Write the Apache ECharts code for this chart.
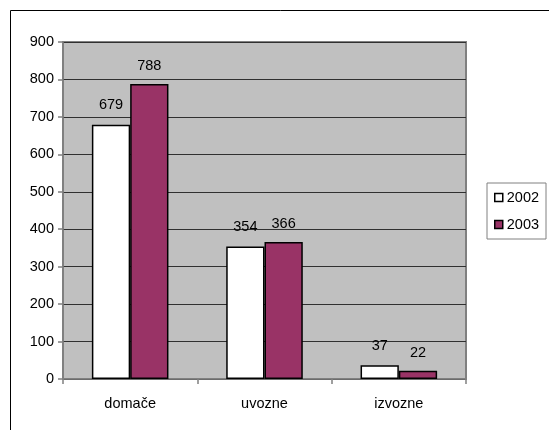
<!DOCTYPE html>
<html>
<head>
<meta charset="utf-8">
<style>
  html, body { margin: 0; padding: 0; background: #fff; }
  #chart { width: 549px; height: 430px; }
</style>
<script src="https://cdn.jsdelivr.net/npm/echarts@6/dist/echarts.min.js"></script>
</head>
<body>
<div id="chart"></div>
<script>
// Categories and yearly values
const categories = ['domače', 'uvozne', 'izvozne'];
const years = ['2002', '2003'];
const values2002 = [679, 354, 37];
const values2003 = [788, 366, 22];
const yTicks = { min: 0, max: 900, interval: 100 };

const FONT = 'Liberation Sans, Arial, sans-serif';
const FS = 14.5;
const chart = echarts.init(document.getElementById('chart'), null, { renderer: 'canvas' });

function barSeries(name, data, color, labelDist) {
  return {
    name: name,
    type: 'bar',
    data: data,
    barGap: '0%',
    barCategoryGap: '43%',
    itemStyle: { color: color, borderColor: '#000', borderWidth: 1.5 },
    label: {
      show: true,
      position: 'top',
      distance: labelDist,
      color: '#000',
      fontFamily: FONT,
      fontSize: FS
    },
    emphasis: { disabled: true }
  };
}

chart.setOption({
  animation: false,
  backgroundColor: '#fff',
  graphic: [{
    type: 'rect',
    shape: { x: 10.5, y: 10.5, width: 600, height: 500 },
    style: { fill: 'none', stroke: '#000', lineWidth: 1 },
    z: 100
  }],
  grid: {
    left: 63, top: 42, right: 83, bottom: 51,
    show: true,
    backgroundColor: '#c0c0c0',
    borderColor: '#808080',
    borderWidth: 2
  },
  legend: {
    data: years,
    orient: 'vertical',
    left: 487, top: 183,
    padding: [7, 7],
    itemGap: 12,
    itemWidth: 8, itemHeight: 8,
    icon: 'rect',
    borderColor: '#808080',
    borderWidth: 1,
    borderRadius: 0,
    textStyle: { fontFamily: FONT, fontSize: FS, color: '#000', padding: [0, 0, 0, -1] },
    itemStyle: { borderColor: '#000', borderWidth: 1.5 }
  },
  xAxis: {
    type: 'category',
    data: categories,
    axisLine: { lineStyle: { color: '#808080', width: 1.5 } },
    axisTick: { show: true, length: 5, lineStyle: { color: '#808080', width: 1.5 } },
    axisLabel: { fontFamily: FONT, fontSize: FS, color: '#000', margin: 17 },
    splitLine: { show: false }
  },
  yAxis: {
    type: 'value',
    min: yTicks.min, max: yTicks.max, interval: yTicks.interval,
    axisLine: { show: true, lineStyle: { color: '#808080', width: 1.5 } },
    axisTick: { show: true, length: 5, lineStyle: { color: '#808080', width: 1.5 } },
    axisLabel: { fontFamily: FONT, fontSize: FS, color: '#000', margin: 9 },
    splitLine: { show: true, lineStyle: { color: '#303030', width: 1 } }
  },
  series: [
    barSeries(years[0], values2002, '#ffffff', 12),
    barSeries(years[1], values2003, '#993366', 10)
  ]
});
</script>
</body>
</html>
